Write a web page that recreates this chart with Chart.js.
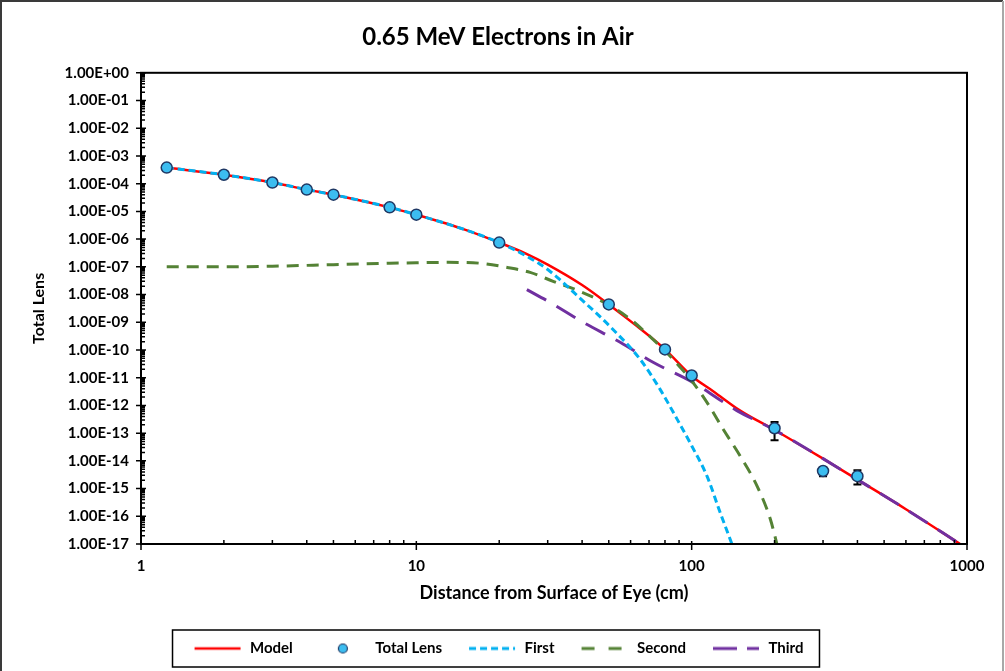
<!DOCTYPE html>
<html>
<head>
<meta charset="utf-8">
<title>0.65 MeV Electrons in Air</title>
<script src="https://cdn.jsdelivr.net/npm/chart.js@4"></script>
<style>
    html, body { margin: 0; padding: 0; background: #fff; }
    canvas { display: block; }
</style>
</head>
<body>
<canvas id="chart" width="1005" height="671"></canvas>
<script>
// ── Data ──────────────────────────────────────────────────────
const xTicks = [1, 10, 100, 1000];
const yTicks = [1e0, 1e-1, 1e-2, 1e-3, 1e-4, 1e-5, 1e-6, 1e-7, 1e-8, 1e-9,
                1e-10, 1e-11, 1e-12, 1e-13, 1e-14, 1e-15, 1e-16, 1e-17];

// Total Lens measurements (with error bars where visible)
const lensX     = [1.24, 2, 3, 4, 5, 8, 10, 20, 50, 80, 100, 200, 300, 400];
const lensY     = [3.8e-4, 2.1e-4, 1.1e-4, 6.1e-5, 4.0e-5, 1.4e-5, 7.6e-6, 7.5e-7,
                   4.4e-9, 1.05e-10, 1.2e-11, 1.5e-13, 4.3e-15, 2.8e-15];
const lensErrLo = [null, null, null, null, null, null, null, null,
                   null, null, 9e-12, 5.5e-14, 2.8e-15, 1.4e-15];
const lensErrHi = [null, null, null, null, null, null, null, null,
                   null, null, 1.6e-11, 2.5e-13, 5.9e-15, 4.6e-15];

// Model (sum)
const modelX = [1.24, 2, 3, 4, 5, 8, 10, 15, 20, 25, 30, 40, 50, 63.4, 80,
                100, 120, 150, 200, 300, 400, 600, 944];
const modelY = [3.8e-4, 2.1e-4, 1.1e-4, 6.1e-5, 4.0e-5, 1.4e-5, 7.6e-6, 2.2e-6, 7.5e-7,
                3.0e-7, 1.2e-7, 2.2e-8, 4.4e-9, 7.1e-10, 1.05e-10, 1.15e-11, 3.2e-12,
                6.5e-13, 1.3e-13, 1.2e-14, 2.1e-15, 1.8e-16, 1.0e-17];

// First component
const firstX = [1.24, 2, 3, 4, 5, 8, 10, 15, 20, 25, 30, 40, 51.8, 65, 76.8,
                88.5, 100, 113.7, 126.8, 140];
const firstY = [3.8e-4, 2.1e-4, 1.1e-4, 6.1e-5, 4.0e-5, 1.4e-5, 7.6e-6, 2.2e-6, 7.5e-7,
                2.5e-7, 8e-8, 6.3e-9, 5.5e-10, 4.6e-11, 3.8e-12, 3.2e-13, 3.5e-14,
                2.8e-15, 1.4e-16, 1.0e-17];

// Second component
const secondX = [1.24, 2, 3, 5, 8, 10, 13, 17, 21.4, 25.9, 31.4, 39.3, 50, 59.8, 72.4,
                 85.6, 101, 116.7, 130, 150, 173, 193, 204];
const secondY = [1.0e-7, 1.0e-7, 1.05e-7, 1.2e-7, 1.35e-7, 1.4e-7, 1.45e-7, 1.35e-7,
                 9.5e-8, 6.3e-8, 3.0e-8, 1.3e-8, 4.2e-9, 1.3e-9, 2.4e-10, 4.6e-11,
                 6.8e-12, 8.5e-13, 1.4e-13, 1.5e-14, 1.2e-15, 8e-17, 1.0e-17];

// Third component
const thirdX = [25.2, 30.6, 40.3, 55, 72.4, 101, 146, 200, 300, 400, 600, 944];
const thirdY = [1.5e-8, 5.2e-9, 1.0e-9, 1.9e-10, 3.6e-11, 6.8e-12, 6.5e-13, 1.3e-13,
                1.2e-14, 2.1e-15, 1.8e-16, 1.0e-17];

// ── Colours ───────────────────────────────────────────────────
const RED    = '#FF0000';
const BLUE   = '#00B0F0';
const GREEN  = '#548235';
const PURPLE = '#7030A0';
const MARKER = '#3CBDF0';
const NAVY   = '#1F3864';

const pts = (xs, ys) => xs.map((x, i) => ({ x, y: ys[i] }));

// ── Legend samples (small canvases used as point styles) ─────
function sample(draw) {
    const c = document.createElement('canvas');
    c.width = 50; c.height = 14;
    const g = c.getContext('2d');
    draw(g);
    return c;
}
function dashSample(color, dash, width) {
    return sample(g => {
        g.strokeStyle = color; g.lineWidth = width; g.setLineDash(dash);
        g.beginPath(); g.moveTo(2, 7); g.lineTo(48, 7); g.stroke();
    });
}
const legendSamples = [
    dashSample(RED, [], 2.5),
    sample(g => {
        g.fillStyle = MARKER; g.strokeStyle = NAVY; g.lineWidth = 1.2;
        g.beginPath(); g.arc(25, 7, 4.5, 0, Math.PI * 2); g.fill(); g.stroke();
    }),
    dashSample(BLUE, [7, 4], 3),
    dashSample(GREEN, [13, 14], 3),
    dashSample(PURPLE, [24, 10], 3),
];

// ── Frame, tick marks, error bars, legend box ─────────────────
const framePlugin = {
    id: 'frame',
    beforeDraw(chart) {
        const { ctx, width, height } = chart;
        ctx.save();
        ctx.lineWidth = 2;
        ctx.strokeStyle = '#3a3a3a';
        ctx.beginPath(); ctx.moveTo(1, height); ctx.lineTo(1, 1); ctx.lineTo(width - 2, 1); ctx.stroke();
        ctx.strokeStyle = '#a8a8a8';
        ctx.beginPath(); ctx.moveTo(width - 2, 1); ctx.lineTo(width - 2, height); ctx.stroke();
        ctx.restore();
    },
    beforeDatasetDraw(chart, args) {
        if (args.index !== 1) return;
        const { ctx, scales: { x, y } } = chart;
        ctx.save();
        ctx.strokeStyle = '#000';
        ctx.lineWidth = 2;
        lensX.forEach((v, i) => {
            if (lensErrLo[i] == null) return;
            const px = x.getPixelForValue(v);
            const lo = y.getPixelForValue(lensErrLo[i]);
            const hi = y.getPixelForValue(lensErrHi[i]);
            ctx.beginPath();
            ctx.moveTo(px, lo); ctx.lineTo(px, hi);
            ctx.moveTo(px - 4, lo); ctx.lineTo(px + 4, lo);
            ctx.moveTo(px - 4, hi); ctx.lineTo(px + 4, hi);
            ctx.stroke();
        });
        ctx.restore();
    },
    afterDraw(chart) {
        const { ctx, chartArea: a, scales: { x, y } } = chart;
        ctx.save();
        ctx.strokeStyle = '#000';

        // plot border
        ctx.lineWidth = 2;
        ctx.strokeRect(a.left, a.top, a.right - a.left, a.bottom - a.top);

        // y ticks
        ctx.lineWidth = 1.5;
        ctx.beginPath();
        yTicks.forEach(v => {
            const py = y.getPixelForValue(v);
            ctx.moveTo(a.left - 5, py); ctx.lineTo(a.left + 5, py);
        });
        for (let e = -17; e < 0; e++) {
            for (let k = 2; k <= 9; k++) {
                const py = y.getPixelForValue(k * Math.pow(10, e));
                ctx.moveTo(a.left, py); ctx.lineTo(a.left + 4, py);
            }
        }
        // x ticks
        xTicks.forEach(v => {
            const px = x.getPixelForValue(v);
            ctx.moveTo(px, a.bottom - 3); ctx.lineTo(px, a.bottom + 6);
        });
        for (let e = 0; e < 3; e++) {
            for (let k = 2; k <= 9; k++) {
                const px = x.getPixelForValue(k * Math.pow(10, e));
                ctx.moveTo(px, a.bottom); ctx.lineTo(px, a.bottom - 4);
            }
        }
        ctx.stroke();

        // legend box
        const boxes = chart.legend.legendHitBoxes;
        if (boxes && boxes.length) {
            const left  = Math.min(...boxes.map(b => b.left)) - 20;
            const right = Math.max(...boxes.map(b => b.left + b.width)) + 16;
            const top   = boxes[0].top - 11;
            const h     = boxes[0].height + 22;
            ctx.lineWidth = 1.5;
            ctx.strokeStyle = '#000';
            ctx.strokeRect(left, top, right - left, h);
        }
        ctx.restore();
    }
};

// ── Chart ─────────────────────────────────────────────────────
Chart.defaults.font.family = 'Lato, "Open Sans", sans-serif';
Chart.defaults.color = '#000';

const lineDefaults = { showLine: true, pointRadius: 0, pointHoverRadius: 0, fill: false,
                       cubicInterpolationMode: 'monotone' };

new Chart(document.getElementById('chart'), {
    type: 'scatter',
    data: {
        datasets: [
            { ...lineDefaults, label: 'Model', data: pts(modelX, modelY),
              borderColor: RED, borderWidth: 2.5, order: 5 },
            { label: 'Total Lens', data: pts(lensX, lensY), showLine: false,
              pointRadius: 5.5, pointBackgroundColor: MARKER, pointBorderColor: NAVY,
              pointBorderWidth: 1.5, backgroundColor: MARKER, borderColor: NAVY, order: 0 },
            { ...lineDefaults, label: 'First', data: pts(firstX, firstY),
              borderColor: BLUE, borderWidth: 3, borderDash: [7, 4], order: 1 },
            { ...lineDefaults, label: 'Second', data: pts(secondX, secondY),
              borderColor: GREEN, borderWidth: 3, borderDash: [12, 8], order: 2 },
            { ...lineDefaults, label: 'Third', data: pts(thirdX, thirdY),
              borderColor: PURPLE, borderWidth: 3, borderDash: [22, 12], order: 3 },
        ],
    },
    options: {
        responsive: false,
        animation: false,
        layout: { padding: { left: 29, right: 38, top: 0, bottom: 5 } },
        plugins: {
            title: {
                display: true,
                text: '0.65 MeV Electrons in Air',
                font: { size: 24, weight: 'bold' },
                padding: { top: 23, bottom: 21 },
            },
            legend: {
                position: 'bottom',
                labels: {
                    usePointStyle: true,
                    pointStyleWidth: 50,
                    padding: 25,
                    font: { size: 15, weight: 'bold' },
                    sort: (a, b) => a.datasetIndex - b.datasetIndex,
                    generateLabels(chart) {
                        const items = Chart.defaults.plugins.legend.labels.generateLabels(chart);
                        items.forEach(it => { it.pointStyle = legendSamples[it.datasetIndex]; });
                        return items;
                    },
                },
            },
            tooltip: { enabled: false },
        },
        scales: {
            x: {
                type: 'logarithmic',
                min: 1, max: 1000,
                afterBuildTicks: s => { s.ticks = xTicks.map(v => ({ value: v })); },
                afterFit: s => { s.height = 72; },
                grid: { display: false, drawTicks: false },
                border: { display: false },
                ticks: {
                    padding: 13, autoSkip: false, maxRotation: 0,
                    font: { size: 15, weight: 'bold' },
                    callback: v => String(v),
                },
                title: {
                    display: true,
                    text: 'Distance from Surface of Eye (cm)',
                    font: { size: 18, weight: 'bold' },
                    padding: { top: 0, bottom: 12 },
                },
            },
            y: {
                type: 'logarithmic',
                min: 1e-17, max: 1,
                afterBuildTicks: s => { s.ticks = yTicks.map(v => ({ value: v })); },
                afterFit: s => { s.width = 112; },
                grid: { display: false, drawTicks: false },
                border: { display: false },
                ticks: {
                    padding: 12, autoSkip: false,
                    font: { size: 15, weight: 'bold' },
                    callback: v => {
                        const e = Math.round(Math.log10(v));
                        return '1.00E' + (e < 0 ? '-' : '+') + String(Math.abs(e)).padStart(2, '0');
                    },
                },
                title: {
                    display: true,
                    text: 'Total Lens',
                    font: { size: 16, weight: 'bold' },
                    padding: { top: 0, bottom: 0 },
                },
            },
        },
    },
    plugins: [framePlugin],
});
</script>
</body>
</html>
